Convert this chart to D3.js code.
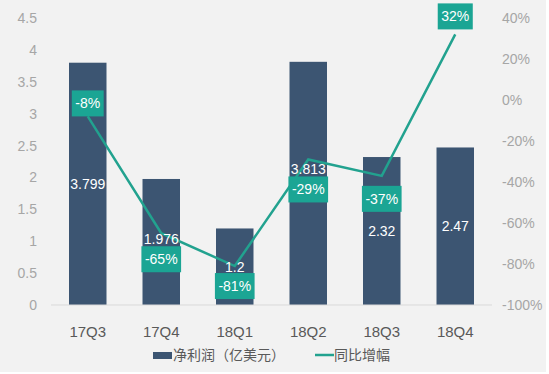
<!DOCTYPE html>
<html>
<head>
<meta charset="utf-8">
<script src="https://cdn.jsdelivr.net/npm/d3@7"></script>
<style>
  html, body { margin: 0; padding: 0; background: #ffffff; }
  svg { display: block; font-family: "Liberation Sans", Arial, "Noto Sans CJK SC", sans-serif; }
</style>
</head>
<body>
<div class="container"></div>
<script>
// chart data
const quarters = ["17Q3", "17Q4", "18Q1", "18Q2", "18Q3", "18Q4"];
const netProfit = [3.799, 1.976, 1.2, 3.813, 2.32, 2.47];
const profitLabels = ["3.799", "1.976", "1.2", "3.813", "2.32", "2.47"];
const yoyGrowth = [-0.08, -0.65, -0.81, -0.29, -0.37, 0.32];
const yoyLabels = ["-8%", "-65%", "-81%", "-29%", "-37%", "32%"];

const leftTicks = [0, 0.5, 1, 1.5, 2, 2.5, 3, 3.5, 4, 4.5];
const leftTickLabels = ["0", "0.5", "1", "1.5", "2", "2.5", "3", "3.5", "4", "4.5"];
const rightTicks = [-1, -0.8, -0.6, -0.4, -0.2, 0, 0.2, 0.4];
const rightTickLabels = ["-100%", "-80%", "-60%", "-40%", "-20%", "0%", "20%", "40%"];

const legendNames = ["净利润（亿美元）", "同比增幅"];

// layout / style
const width = 549, height = 374;
const barColor = "#3c5572";
const teal = "#1ba594";
const labelDy = [-13, 26, 20, 30, 23, -18];   // % box centre offset from the point

const svg = d3.select(".container")
    .append("svg")
    .attr("width", width)
    .attr("height", height);

svg.append("rect")
    .attr("width", 546)
    .attr("height", 372)
    .attr("fill", "#f2f2f2");

const x = d3.scaleBand()
    .domain(quarters)
    .range([51, 492])
    .paddingInner(0.49)
    .paddingOuter(0.245);

const yL = d3.scaleLinear().domain([0, 4.5]).range([305, 18]);
const yR = d3.scaleLinear().domain([-1, 0.4]).range([305, 18]);

// left axis
const leftAxis = svg.append("g")
    .attr("transform", "translate(40,0)")
    .call(d3.axisLeft(yL).tickValues(leftTicks).tickSize(0).tickPadding(3)
        .tickFormat((d, i) => leftTickLabels[i]));
leftAxis.select(".domain").remove();
leftAxis.selectAll("text")
    .attr("fill", "#a6a6a6")
    .style("font-size", "14px")
    .style("font-family", "Liberation Sans, Arial, sans-serif");

// right axis
const rightAxis = svg.append("g")
    .attr("transform", "translate(499,0)")
    .call(d3.axisRight(yR).tickValues(rightTicks).tickSize(0).tickPadding(3)
        .tickFormat((d, i) => rightTickLabels[i]));
rightAxis.select(".domain").remove();
rightAxis.selectAll("text")
    .attr("fill", "#a6a6a6")
    .style("font-size", "14px")
    .style("font-family", "Liberation Sans, Arial, sans-serif");

// bars
svg.selectAll("rect.bar")
    .data(netProfit)
    .enter()
    .append("rect")
    .attr("class", "bar")
    .attr("x", (d, i) => x(quarters[i]))
    .attr("y", d => yL(d))
    .attr("width", x.bandwidth())
    .attr("height", d => yL(0) - yL(d))
    .attr("fill", barColor);

// baseline
svg.append("line")
    .attr("x1", 51).attr("x2", 492)
    .attr("y1", yL(0)).attr("y2", yL(0))
    .attr("stroke", "#d9d9d9")
    .attr("stroke-width", 1);

// category axis
const xAxis = svg.append("g")
    .attr("transform", `translate(0,${yL(0)})`)
    .call(d3.axisBottom(x).tickSize(0).tickPadding(21));
xAxis.select(".domain").remove();
xAxis.selectAll("text")
    .attr("fill", "#595959")
    .style("font-size", "15px")
    .style("font-family", "Liberation Sans, Arial, sans-serif");

// growth line
const cx = i => x(quarters[i]) + x.bandwidth() / 2;
const line = d3.line()
    .x((d, i) => cx(i))
    .y(d => yR(d));

svg.append("path")
    .datum(yoyGrowth)
    .attr("d", line)
    .attr("fill", "none")
    .attr("stroke", "#22a28f")
    .attr("stroke-width", 2.5);

// % label boxes
const boxH = 26;
const boxes = yoyGrowth.map((d, i) => {
    const c = yR(d) + labelDy[i];
    return { top: c - boxH / 2, bottom: c + boxH / 2, cy: c };
});

const pct = svg.selectAll("g.pct")
    .data(yoyGrowth)
    .enter()
    .append("g")
    .attr("class", "pct");

pct.append("text")
    .attr("x", (d, i) => cx(i))
    .attr("y", (d, i) => boxes[i].cy)
    .attr("dy", "0.36em")
    .attr("text-anchor", "middle")
    .attr("fill", "#ffffff")
    .style("font-size", "14px")
    .text((d, i) => yoyLabels[i])
    .each(function (d, i) {
        const w = this.getComputedTextLength() + 7;
        d3.select(this.parentNode).insert("rect", "text")
            .attr("x", cx(i) - w / 2)
            .attr("y", boxes[i].top)
            .attr("width", w)
            .attr("height", boxH)
            .attr("fill", teal);
    });

// value labels inside bars, moved above the % box when they collide
svg.selectAll("text.val")
    .data(netProfit)
    .enter()
    .append("text")
    .attr("class", "val")
    .attr("x", (d, i) => cx(i))
    .attr("y", (d, i) => {
        const mid = (yL(d) + yL(0)) / 2;
        const b = boxes[i];
        const overlap = Math.min(mid + 7, b.bottom) - Math.max(mid - 7, b.top);
        return overlap > 2 ? b.top - 7 : mid;
    })
    .attr("dy", "0.36em")
    .attr("text-anchor", "middle")
    .attr("fill", "#ffffff")
    .style("font-size", "14px")
    .text((d, i) => profitLabels[i]);

// legend
const legend = svg.append("g").attr("transform", "translate(0,355)");
legend.append("rect")
    .attr("x", 153).attr("y", -3)
    .attr("width", 19).attr("height", 7)
    .attr("fill", barColor);
legend.append("text")
    .attr("x", 173).attr("dy", "0.36em")
    .attr("fill", "#595959")
    .style("font-size", "14px")
    .style("font-family", "Noto Sans CJK SC, sans-serif")
    .text(legendNames[0]);
legend.append("line")
    .attr("x1", 315).attr("x2", 334)
    .attr("stroke", "#22a28f")
    .attr("stroke-width", 2.5);
legend.append("text")
    .attr("x", 334).attr("dy", "0.36em")
    .attr("fill", "#595959")
    .style("font-size", "14px")
    .style("font-family", "Noto Sans CJK SC, sans-serif")
    .text(legendNames[1]);
</script>
</body>
</html>
